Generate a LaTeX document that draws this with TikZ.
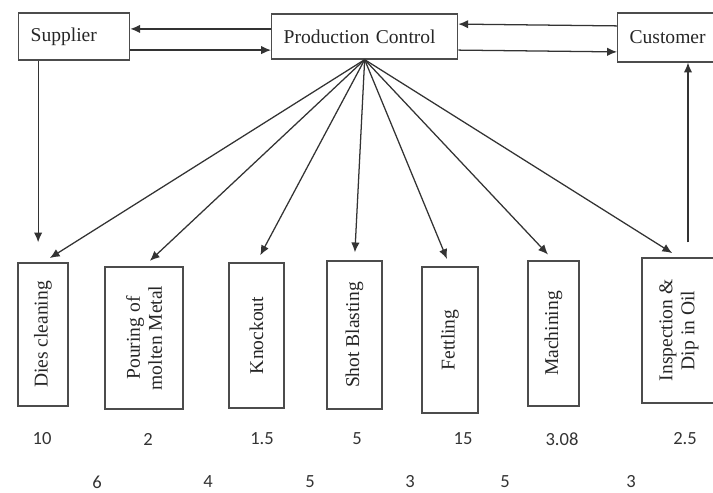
\documentclass[tikz,border=0pt]{standalone}
\usepackage{fontspec}
\setmainfont{Liberation Serif}
\newfontfamily\numfont{Carlito}
\usetikzlibrary{arrows.meta}

\tikzset{
  topbox/.style={draw=black!70, line width=0.9pt, inner xsep=0.3cm, inner ysep=0pt,
    align=left, anchor=west, text=black!85, font=\fontsize{13.9}{20.6}\selectfont},
  stage/.style={draw=black!70, line width=0.9pt, inner sep=0pt, text=black!85,
    font=\fontsize{13.9}{20.6}\selectfont},
  arr/.style={draw=black!80, line width=0.9pt, -{Latex[length=7pt,width=6pt]}},
  num/.style={text=black!80, font=\numfont\fontsize{13.2}{15}\selectfont}
}

\begin{document}
\begin{tikzpicture}[x=0.025cm, y=-0.025cm]
  \useasboundingbox (0,0) rectangle (713,493);
  \clip (0,0) rectangle (713,493);

  % top row
  \node[topbox, text width=2.175cm, minimum height=1.175cm] (sup) at (18,36.5) {Supplier};
  \node[topbox, text width=4.05cm, minimum height=1.125cm] (pc) at (271,36.5) {Production Control};
  \node[topbox, text width=1.875cm, minimum height=1.225cm] (cust) at (617,37.5) {Customer};

  % process boxes
  \node[stage, minimum width=1.25cm, minimum height=3.575cm] (dies) at (43,334.5)
    {\rotatebox{90}{Dies cleaning}};
  \node[stage, minimum width=1.95cm, minimum height=3.55cm] (pour) at (144,338)
    {\rotatebox{90}{\shortstack{Pouring of\\molten Metal}}};
  \node[stage, minimum width=1.375cm, minimum height=3.625cm] (knock) at (256.5,335.5)
    {\rotatebox{90}{Knockout}};
  \node[stage, minimum width=1.375cm, minimum height=3.7cm] (shot) at (354.5,335)
    {\rotatebox{90}{Shot Blasting}};
  \node[stage, minimum width=1.4cm, minimum height=3.65cm] (fettl) at (450,340)
    {\rotatebox{90}{Fettling}};
  \node[stage, minimum width=1.275cm, minimum height=3.625cm] (mach) at (553.5,333.5)
    {\rotatebox{90}{Machining}};
  \node[stage, minimum width=1.85cm, minimum height=3.625cm] (insp) at (679,330.5)
    {\rotatebox{90}{\shortstack{Inspection \&\\Dip in Oil}}};

  % information flow
  \draw[arr] ([yshift=0.19cm]pc.west) -- ([yshift=0.19cm]sup.east);
  \draw[arr] ([yshift=-0.34cm]sup.east) -- ([yshift=-0.34cm]pc.west);
  \draw[arr] ([yshift=0.29cm]cust.west) -- ([yshift=0.31cm]pc.east);
  \draw[arr] ([yshift=-0.34cm]pc.east) -- ([yshift=-0.36cm]cust.west);

  \coordinate (sdown) at ([xshift=-0.9cm]sup.south);
  \draw[arr, shorten >=0.5cm] (sdown) -- (sdown |- dies.north);
  \coordinate (iup) at ([xshift=0.225cm]insp.north);
  \draw[arr, shorten <=0.375cm] (iup) -- (iup |- cust.south);

  \foreach \s in {dies,pour,knock,shot,fettl,mach,insp}
    \draw[arr, shorten >=0.2cm] (pc.south) -- (\s.north);

  % times
  \foreach \x/\v [count=\i] in {42/10,148/2,262/1.5,357/5,463/15,562/3.08,685/2.5}
    \node[num] (t\i) at (\x,439) {\v};
  \foreach \x/\v [count=\i] in {97/6,208/4,310/5,410/3,505/5,631/3}
    \node[num] (w\i) at (\x,482) {\v};
\end{tikzpicture}
\end{document}
